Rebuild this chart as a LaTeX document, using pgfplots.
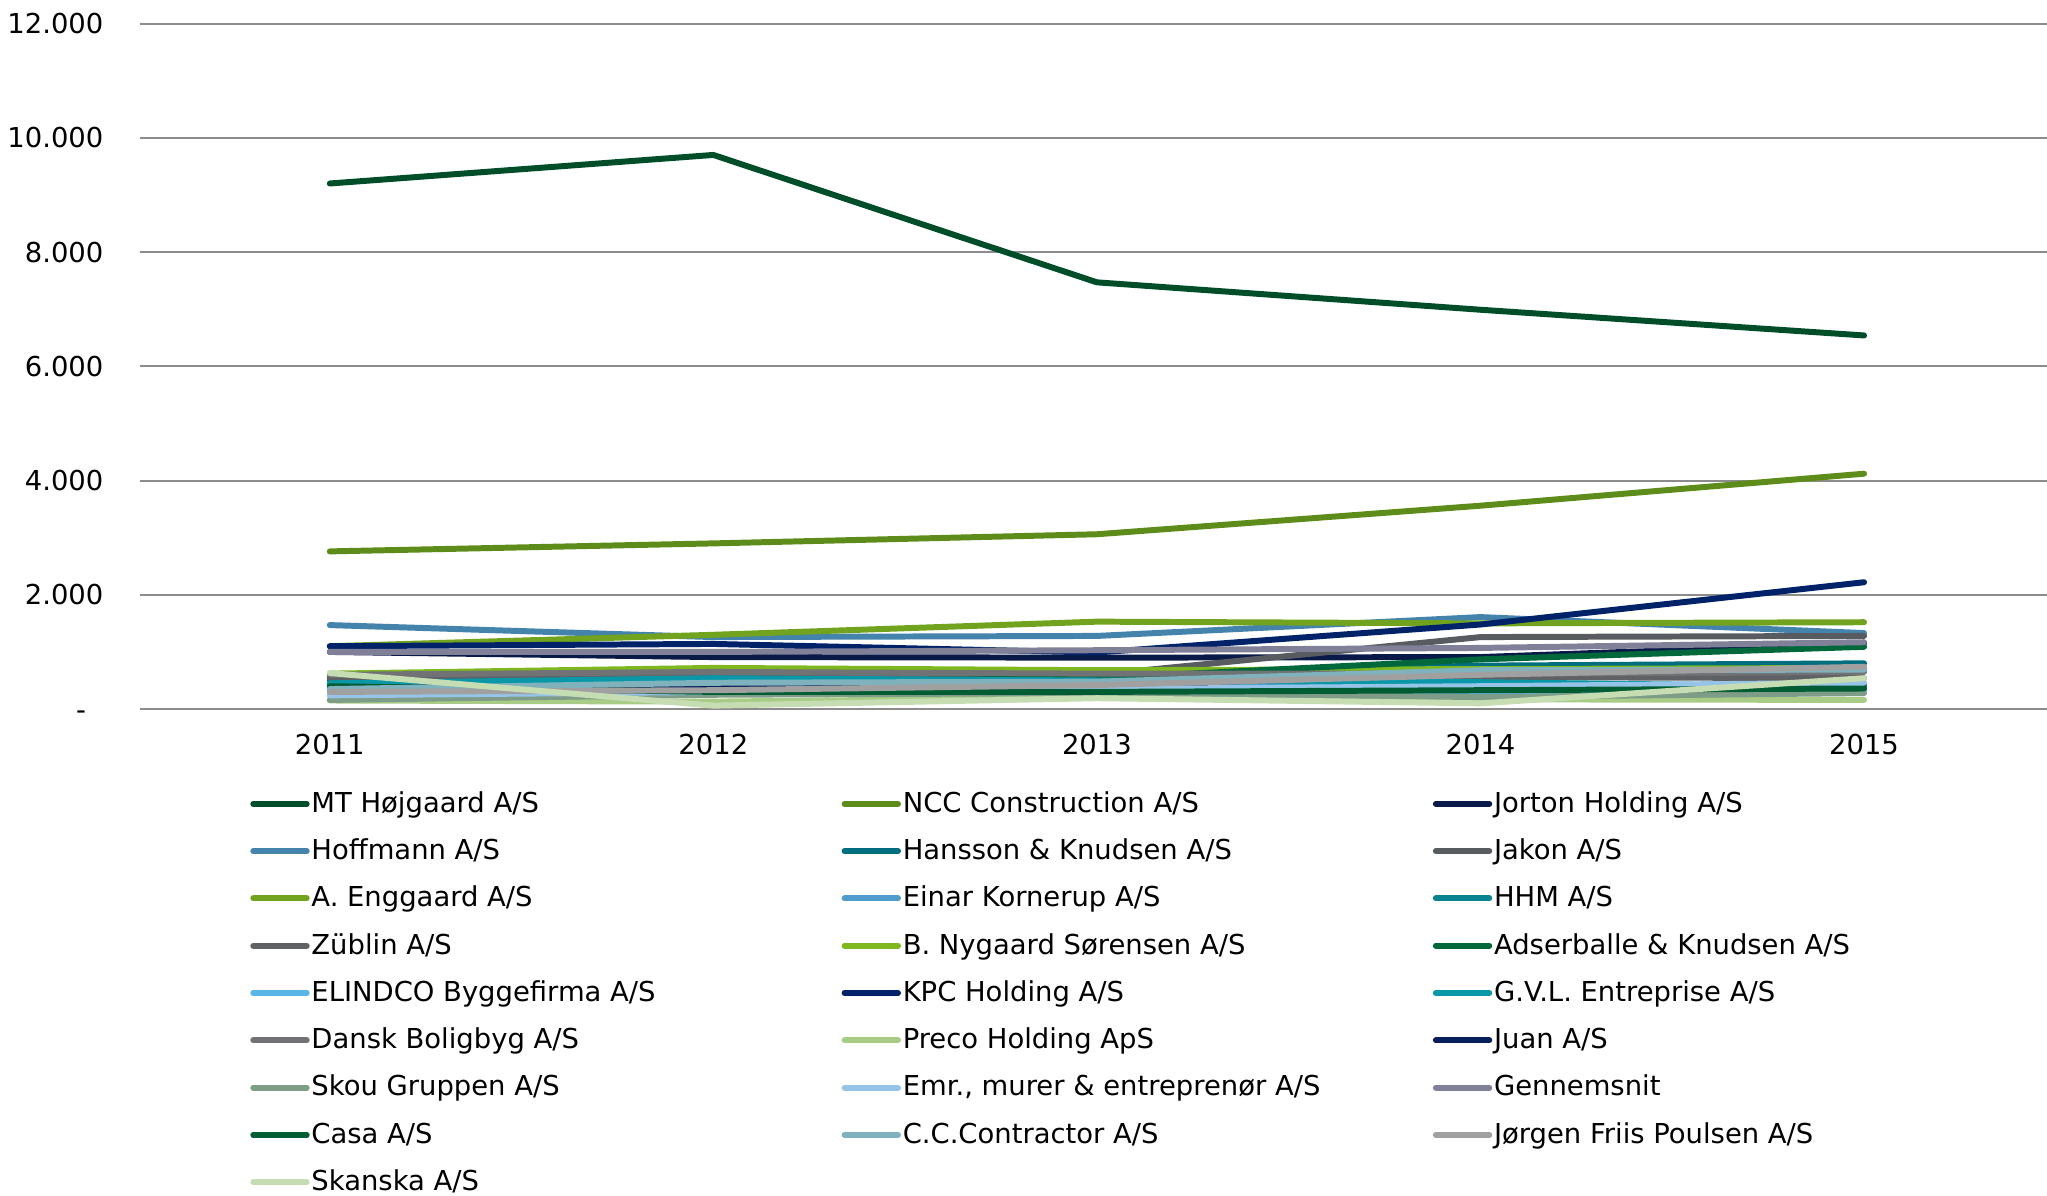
\documentclass[border=0pt]{standalone}
\usepackage{fontspec}
\setmainfont{DejaVu Sans}
\usepackage{pgfplots}
\pgfplotsset{compat=1.18}

\definecolor{cMT}{RGB}{0,77,42}
\definecolor{cNCC}{RGB}{94,140,26}
\definecolor{cJorton}{RGB}{10,26,72}
\definecolor{cHoff}{RGB}{68,131,171}
\definecolor{cHansson}{RGB}{0,110,127}
\definecolor{cJakon}{RGB}{88,91,95}
\definecolor{cEngg}{RGB}{113,163,30}
\definecolor{cEinar}{RGB}{80,156,204}
\definecolor{cHHM}{RGB}{8,131,143}
\definecolor{cZub}{RGB}{95,97,100}
\definecolor{cNyg}{RGB}{126,184,30}
\definecolor{cAds}{RGB}{0,104,58}
\definecolor{cElin}{RGB}{90,180,229}
\definecolor{cKPC}{RGB}{0,34,104}
\definecolor{cGVL}{RGB}{10,152,168}
\definecolor{cDansk}{RGB}{113,114,117}
\definecolor{cPreco}{RGB}{168,203,133}
\definecolor{cJuan}{RGB}{8,30,90}
\definecolor{cSkou}{RGB}{127,156,136}
\definecolor{cEmr}{RGB}{150,196,232}
\definecolor{cGen}{RGB}{128,128,152}
\definecolor{cCasa}{RGB}{0,92,50}
\definecolor{cCC}{RGB}{127,178,189}
\definecolor{cJorgen}{RGB}{160,160,160}
\definecolor{cSkanska}{RGB}{198,220,178}

% legend text in fixed-width boxes so the three columns line up
\newcommand\lgd[1]{\addlegendentry{\makebox[150.8pt][l]{#1}}}

\begin{document}
\fontsize{7.8}{9.4}\selectfont
\begin{tikzpicture}
\begin{axis}[
    name=ax,
    scale only axis,
    width=542.5pt, height=195pt,
    xmin=2010.505, xmax=2015.477,
    ymin=0, ymax=12000,
    scaled y ticks=false,
    xtick={2011,2012,2013,2014,2015},
    xticklabels={2011,2012,2013,2014,2015},
    ytick={0,2000,4000,6000,8000,10000,12000},
    yticklabels={-\phantom{0},2.000,4.000,6.000,8.000,10.000,12.000},
    xticklabel style={anchor=center, inner sep=0pt, yshift=-10pt},
    yticklabel style={anchor=east, inner sep=0pt, xshift=-10.2pt},
    tick style={draw=none},
    axis line style={draw=none},
    ymajorgrids=true,
    grid style={draw={rgb,255:red,140;green,140;blue,140}, line width=0.55pt},
    every axis plot/.append style={line width=1.7pt, line cap=round, line join=round, mark=none},
    legend columns=3,
    legend image code/.code={\draw[#1] (0pt,0pt) -- (15.2pt,0pt);},
    legend style={at={(0,0)}, anchor=north west, xshift=31.2pt, yshift=-23.2pt,
        draw=none, fill=none, inner sep=0pt, row sep=6.36pt,
        cells={anchor=west}, nodes={inner sep=0pt},
        /tikz/every odd column/.append style={column sep=0.5pt}},
]
\addplot[cMT] coordinates {(2011,9200) (2012,9700) (2013,7470) (2014,6990) (2015,6540)};
\lgd{MT Højgaard A/S}
\addplot[cNCC] coordinates {(2011,2760) (2012,2900) (2013,3060) (2014,3560) (2015,4120)};
\lgd{NCC Construction A/S}
\addplot[cJorton] coordinates {(2011,1000) (2012,910) (2013,900) (2014,910) (2015,1150)};
\lgd{Jorton Holding A/S}
\addplot[cHoff] coordinates {(2011,1470) (2012,1260) (2013,1280) (2014,1610) (2015,1330)};
\lgd{Hoffmann A/S}
\addplot[cHansson] coordinates {(2011,500) (2012,560) (2013,600) (2014,760) (2015,800)};
\lgd{Hansson \& Knudsen A/S}
\addplot[cJakon] coordinates {(2011,530) (2012,580) (2013,600) (2014,1260) (2015,1280)};
\lgd{Jakon A/S}
\addplot[cEngg] coordinates {(2011,1100) (2012,1300) (2013,1530) (2014,1500) (2015,1520)};
\lgd{A. Enggaard A/S}
\addplot[cEinar] coordinates {(2011,350) (2012,500) (2013,480) (2014,400) (2015,380)};
\lgd{Einar Kornerup A/S}
\addplot[cHHM] coordinates {(2011,450) (2012,520) (2013,520) (2014,600) (2015,690)};
\lgd{HHM A/S}
\addplot[cZub] coordinates {(2011,560) (2012,600) (2013,590) (2014,560) (2015,540)};
\lgd{Züblin A/S}
\addplot[cNyg] coordinates {(2011,620) (2012,720) (2013,680) (2014,700) (2015,720)};
\lgd{B. Nygaard Sørensen A/S}
\addplot[cAds] coordinates {(2011,420) (2012,480) (2013,540) (2014,870) (2015,1090)};
\lgd{Adserballe \& Knudsen A/S}
\addplot[cElin] coordinates {(2011,250) (2012,280) (2013,320) (2014,300) (2015,330)};
\lgd{ELINDCO Byggefirma A/S}
\addplot[cKPC] coordinates {(2011,1100) (2012,1140) (2013,990) (2014,1480) (2015,2220)};
\lgd{KPC Holding A/S}
\addplot[cGVL] coordinates {(2011,450) (2012,540) (2013,500) (2014,470) (2015,390)};
\lgd{G.V.L. Entreprise A/S}
\addplot[cDansk] coordinates {(2011,600) (2012,650) (2013,620) (2014,620) (2015,650)};
\lgd{Dansk Boligbyg A/S}
\addplot[cPreco] coordinates {(2011,150) (2012,130) (2013,200) (2014,170) (2015,160)};
\lgd{Preco Holding ApS}
\addplot[cJuan] coordinates {(2011,370) (2012,400) (2013,380) (2014,350) (2015,440)};
\lgd{Juan A/S}
\addplot[cSkou] coordinates {(2011,160) (2012,250) (2013,280) (2014,210) (2015,280)};
\lgd{Skou Gruppen A/S}
\addplot[cEmr] coordinates {(2011,240) (2012,300) (2013,350) (2014,400) (2015,460)};
\lgd{Emr., murer \& entreprenør A/S}
\addplot[cGen] coordinates {(2011,1000) (2012,1000) (2013,1030) (2014,1070) (2015,1170)};
\lgd{Gennemsnit}
\addplot[cCasa] coordinates {(2011,400) (2012,300) (2013,300) (2014,330) (2015,360)};
\lgd{Casa A/S}
\addplot[cCC] coordinates {(2011,350) (2012,460) (2013,480) (2014,680) (2015,690)};
\lgd{C.C.Contractor A/S}
\addplot[cJorgen] coordinates {(2011,300) (2012,330) (2013,420) (2014,600) (2015,740)};
\lgd{Jørgen Friis Poulsen A/S}
\addplot[cSkanska] coordinates {(2011,630) (2012,60) (2013,190) (2014,100) (2015,540)};
\lgd{Skanska A/S}
\end{axis}
\pgfresetboundingbox
\path ([xshift=-39.8pt,yshift=-138.3pt]ax.south west) rectangle ([yshift=6.7pt]ax.north east);
\end{tikzpicture}
\end{document}
